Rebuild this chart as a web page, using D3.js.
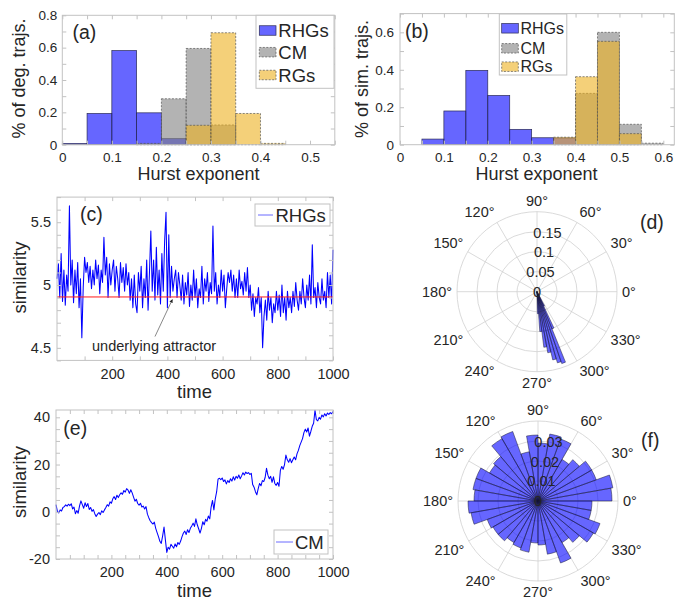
<!DOCTYPE html>
<html>
<head>
<meta charset="utf-8">
<script src="https://cdn.jsdelivr.net/npm/d3@7"></script>
<style>
  body { margin: 0; background: white; }
  svg { font-family: "Liberation Sans", Arial, Helvetica, sans-serif; }
</style>
</head>
<body>
<svg id="chart" width="679" height="601"></svg>
<script>
// ---------- data ----------
var histSeries = ["RHGs", "CM", "RGs"];
var binWidth = 0.05;

// (a) degree trajectories
var aBins = [0, 0.05, 0.1, 0.15, 0.2, 0.25, 0.3, 0.35, 0.4, 0.45, 0.5];
var aRHGs = [0.008, 0.193, 0.582, 0.197, 0.037, 0, 0, 0, 0, 0, 0];
var aCM   = [0, 0, 0, 0.008, 0.284, 0.595, 0.122, 0, 0, 0, 0];
var aRGs  = [0, 0, 0, 0, 0, 0.12, 0.692, 0.193, 0.008, 0, 0];
var aXLabels = [0, 0.1, 0.2, 0.3, 0.4, 0.5];
var aYLabels = [0, 0.2, 0.4, 0.6, 0.8];

// (b) similarity trajectories
var bBins = [0, 0.05, 0.1, 0.15, 0.2, 0.25, 0.3, 0.35, 0.4, 0.45, 0.5, 0.55];
var bRHGs = [0, 0.03, 0.18, 0.397, 0.263, 0.082, 0.037, 0.036, 0, 0, 0, 0];
var bCM   = [0, 0, 0, 0, 0, 0, 0, 0, 0.274, 0.6, 0.109, 0.008];
var bRGs  = [0, 0, 0, 0, 0, 0, 0, 0.04, 0.363, 0.552, 0.059, 0];
var bXLabels = [0, 0.1, 0.2, 0.3, 0.4, 0.5, 0.6];
var bYLabels = [0, 0.2, 0.4, 0.6];

// (c) RHGs similarity, one sample every 5 time steps (t = 0..1000)
var tStep = 5;
var cValues = [
  5.05, 5.17, 4.9, 5.25, 4.87, 5.12, 4.84, 5.08, 4.95, 5.63,
  5.0, 5.2, 4.86, 5.12, 4.93, 5.18, 4.82, 5.05, 4.58, 4.98,
  5.22, 5.1, 5.18, 5.02, 5.15, 4.97, 5.12, 5.0, 5.2, 5.05,
  5.16, 4.93, 5.12, 5.02, 5.38, 5.08, 5.22, 4.9, 5.17, 5.0,
  5.12, 5.2, 4.95, 5.15, 5.05, 4.9, 5.18, 5.02, 5.14, 4.95,
  5.17, 5.0, 5.1, 4.88, 5.05, 4.82, 5.08, 4.85, 4.78, 5.1,
  4.95, 5.15, 4.82, 5.05, 4.9, 5.2, 4.8, 5.1, 5.43, 4.95,
  5.2, 4.88, 5.3, 4.92, 5.12, 4.85, 5.25, 4.95, 5.35, 5.58,
  4.82, 5.4, 4.9, 5.15, 4.95, 5.05, 5.12, 4.9, 5.1, 5.0,
  4.88, 5.08, 4.85, 5.02, 4.92, 5.1, 4.83, 5.0, 4.88, 5.12,
  4.9, 5.05, 4.82, 4.97, 4.9, 5.15, 4.85, 5.05, 4.95, 5.1,
  4.87, 5.02, 4.93, 5.47, 4.95, 5.1, 4.85, 5.0, 4.9, 5.12,
  4.95, 5.08, 4.82, 4.97, 5.1, 5.02, 5.12, 4.95, 5.08, 4.9,
  5.05, 4.9, 5.12, 4.97, 5.03, 4.92, 5.1, 4.95, 5.14, 4.9,
  5.0, 4.8, 4.93, 4.75, 4.9, 4.85, 4.98, 4.78, 4.9, 4.5,
  4.75, 4.88, 4.72, 4.95, 4.8, 4.9, 4.7, 4.85, 4.78, 4.95,
  4.8, 4.92, 4.75, 5.0, 4.78, 4.9, 4.72, 4.95, 4.82, 4.9,
  4.78, 4.95, 4.83, 5.02, 4.88, 4.8, 4.95, 4.85, 5.05, 4.9,
  4.82, 5.0, 4.88, 5.08, 4.85, 5.32, 4.9, 4.98, 4.82, 5.02,
  4.9, 4.85, 5.05, 4.88, 4.95, 4.82, 5.1, 4.9, 5.08, 4.85,
  5.28
];
var attractorValue = 4.905;
var cXLabels = [200, 400, 600, 800, 1000];
var cYLabels = [4.5, 5, 5.5];

// (e) CM similarity, one sample every 5 time steps
var eValues = [
  3.0, 0.2, -0.5, 0.8, 0.3, 1.8, 2.2, 2.9, 2.4, 3.2,
  2.6, 3.4, 1.2, 2.0, -0.8, 0.5, -0.6, 2.5, 4.6, 3.0,
  1.5, 3.8, 2.2, 3.5, 1.0, 1.8, 0.2, 0.9, -0.8, -2.0,
  -1.0, -0.3, -1.2, 0.4, -0.3, 0.8, 1.8, 3.0, 2.4, 4.2,
  3.6, 5.5, 6.4, 5.2, 7.0, 6.0, 7.2, 8.0, 7.4, 9.0,
  8.3, 9.8, 9.2, 7.8, 9.3, 8.0, 6.2, 4.5, 5.3, 3.5,
  2.8, 3.6, 2.0, 2.4, 1.2, 2.2, -1.0, -2.5, -3.8, -4.6,
  -5.2, -4.4, -7.0, -8.8, -10.5, -12.5, -13.4, -10.2, -6.5, -12.0,
  -17.2, -15.0, -15.8, -13.8, -14.6, -15.4, -13.6, -14.8, -13.0, -13.8,
  -12.4, -10.5, -9.0, -8.2, -9.6, -7.6, -8.8, -7.0, -6.0, -4.8,
  -6.2, -3.0, -5.5, -7.2, -9.0, -7.0, -4.2, -5.5, -3.2, -4.0,
  -1.8, -3.0, 2.0, 4.8, 0.8, 5.5, 8.5, 13.8, 14.2, 13.6,
  14.3, 12.8, 13.5, 11.8, 13.2, 12.4, 14.0, 13.0, 14.8, 13.4,
  15.0, 14.2, 15.6, 14.0, 15.2, 16.5, 15.6, 16.8, 16.2, 16.6,
  15.8, 16.3, 11.5, 10.4, 8.5, 7.2, 9.8, 12.0, 11.0, 13.2,
  12.8, 14.5, 18.4, 15.5, 14.0, 15.0, 12.5, 14.8, 12.0, 11.2,
  12.4, 10.8, 17.5, 19.2, 18.0, 20.0, 24.0, 22.0, 21.0, 22.5,
  20.8, 22.0, 23.2, 22.0, 24.5, 26.0, 28.0, 29.5, 31.0, 33.5,
  35.0, 33.8, 35.5, 32.0, 34.0, 36.2, 37.5, 43.0, 39.0, 38.5,
  40.0, 39.2, 41.0, 40.2, 41.5, 40.6, 41.8, 41.2, 42.0, 41.5,
  42.5
];
var eXLabels = [200, 400, 600, 800, 1000];
var eYLabels = [-20, 0, 20, 40];

// (d) polar histogram of RHGs angles (bin start in degrees, 3 degree bins)
var dBinWidth = 3;
var dAngles = [271, 274, 277, 280, 283, 286, 289, 292, 295];
var dValues = [0.055, 0.1, 0.14, 0.155, 0.175, 0.185, 0.19, 0.1, 0.04];
var dRings = [0.05, 0.1, 0.15, 0.2];
var dRingLabels = ["0.05", "0.1", "0.15"];

// (f) polar histogram of CM angles (10 degree bins)
var fBinWidth = 10;
var fAngles = d3.range(0, 360, 10);
var fValues = [
  0.037, 0.038, 0.031, 0.031, 0.027, 0.024, 0.033, 0.034, 0.029, 0.033,
  0.025, 0.037, 0.036, 0.029, 0.028, 0.033, 0.033, 0.032, 0.035, 0.034,
  0.027, 0.026, 0.026, 0.024, 0.025, 0.026, 0.021, 0.022, 0.027, 0.033,
  0.024, 0.027, 0.032, 0.033, 0.027, 0.027
];
var fRings = [0.01, 0.02, 0.03, 0.04];
var fRingLabels = ["0.01", "0.02", "0.03"];

var thetaLabels = d3.range(0, 360, 30);

// ---------- style ----------
var svg = d3.select("#chart");
var textColor = "#262626";
var boxColor = "#c2c2c2";
var gridColor = "#d0d0d0";
var seriesFill = { RHGs: "rgb(0,0,255)", CM: "rgb(128,128,128)", RGs: "rgb(237,177,32)" };
var faceAlpha = 0.6;

function fmt(v) { return String(+v.toFixed(3)); }
function isLabel(v, labels) {
  return labels.some(function(l) { return Math.abs(l - v) < 1e-9; });
}

// axes box with inward ticks on all four sides
function drawFrame(x, y, o) {
  var g = svg.append("g");
  var x0 = x.range()[0], x1 = x.range()[1], y0 = y.range()[0], y1 = y.range()[1];

  g.append("g").attr("transform", "translate(0," + y0 + ")")
    .call(d3.axisBottom(x).tickValues(o.xTicks).tickSize(-4).tickPadding(o.xPad)
      .tickFormat(function(v) { return isLabel(v, o.xLabels) ? fmt(v) : ""; }))
    .call(styleAxis, o.fontSize);
  g.append("g").attr("transform", "translate(0," + y1 + ")")
    .call(d3.axisTop(x).tickValues(o.xTicks).tickSize(-4).tickFormat(""))
    .call(styleAxis, o.fontSize);
  g.append("g").attr("transform", "translate(" + x0 + ",0)")
    .call(d3.axisLeft(y).tickValues(o.yTicks).tickSize(-4).tickPadding(o.yPad)
      .tickFormat(function(v) { return isLabel(v, o.yLabels) ? fmt(v) : ""; }))
    .call(styleAxis, o.fontSize);
  g.append("g").attr("transform", "translate(" + x1 + ",0)")
    .call(d3.axisRight(y).tickValues(o.yTicks).tickSize(-4).tickFormat(""))
    .call(styleAxis, o.fontSize);

  g.append("rect")
    .attr("x", x0).attr("y", y1)
    .attr("width", x1 - x0).attr("height", y0 - y1)
    .style("fill", "none")
    .style("stroke", boxColor)
    .style("stroke-width", 1);
  return g;
}

function styleAxis(sel, fontSize) {
  sel.select(".domain").remove();
  sel.selectAll(".tick line").attr("stroke", boxColor).attr("stroke-width", 1);
  sel.selectAll(".tick text")
    .attr("fill", textColor)
    .style("font-size", fontSize + "px")
    .style("font-family", "'Liberation Sans', Arial, sans-serif");
}

function addText(str, x, y, size, opts) {
  opts = opts || {};
  var t = svg.append("text")
    .attr("x", x).attr("y", y)
    .attr("fill", textColor)
    .style("font-size", size + "px")
    .attr("text-anchor", opts.anchor || "start")
    .text(str);
  if (opts.rotate) {
    t.attr("x", 0).attr("y", 0)
      .attr("transform", "translate(" + x + "," + y + ") rotate(-90)");
  }
  return t;
}

// ---------- histogram panels ----------
function drawHist(x, y, bins, seriesVals) {
  var g = svg.append("g");
  seriesVals.forEach(function(vals, s) {
    var name = histSeries[s];
    var data = bins.map(function(b, i) { return { b: b, v: vals[i] }; })
      .filter(function(d) { return d.v > 0; });
    g.append("g").selectAll("rect")
      .data(data)
      .enter()
      .append("rect")
      .attr("x", function(d) { return x(d.b); })
      .attr("width", function(d) { return x(d.b + binWidth) - x(d.b); })
      .attr("y", function(d) { return y(d.v); })
      .attr("height", function(d) { return y(0) - y(d.v); })
      .style("fill", seriesFill[name])
      .style("fill-opacity", faceAlpha)
      .style("stroke", name == "RHGs" ? "#2a2a55" : "#555")
      .style("stroke-width", 0.7)
      .style("stroke-dasharray", name == "RHGs" ? null : "2,1.5");
  });
}

function drawHistLegend(bx, by, bw, bh, rows, patchX, patchW, patchH, textX, size) {
  svg.append("rect")
    .attr("x", bx).attr("y", by).attr("width", bw).attr("height", bh)
    .style("fill", "white").style("stroke", boxColor).style("stroke-width", 1);
  histSeries.forEach(function(name, i) {
    svg.append("rect")
      .attr("x", patchX).attr("y", rows[i] - patchH / 2)
      .attr("width", patchW).attr("height", patchH)
      .style("fill", seriesFill[name])
      .style("fill-opacity", faceAlpha)
      .style("stroke", name == "RHGs" ? "#2a2a55" : "#555")
      .style("stroke-width", 0.7)
      .style("stroke-dasharray", name == "RHGs" ? null : "2,1.5");
    addText(name, textX, rows[i] + size * 0.36, size);
  });
}

// (a)
var xA = d3.scaleLinear().domain([0, 0.55]).range([62.3, 334.8]);
var yA = d3.scaleLinear().domain([0, 0.8]).range([144.7, 15.3]);
drawHist(xA, yA, aBins, [aRHGs, aCM, aRGs]);
drawFrame(xA, yA, {
  xTicks: d3.range(0, 0.551, 0.05), xLabels: aXLabels,
  yTicks: d3.range(0, 0.801, 0.1), yLabels: aYLabels,
  fontSize: 13.5, xPad: 8, yPad: 5
});
drawHistLegend(256, 15.3, 78, 73, [30.5, 52.2, 75], 259.3, 16.7, 9.5, 278.3, 18.5);
addText("(a)", 72.5, 39, 19.5);
addText("Hurst exponent", 198.5, 180, 18, { anchor: "middle" });
addText("% of deg. trajs.", 25, 78.5, 18, { anchor: "middle", rotate: true });

// (b)
var xB = d3.scaleLinear().domain([0, 0.625]).range([400, 674.3]);
var yB = d3.scaleLinear().domain([0, 0.7]).range([144.7, 13.6]);
drawHist(xB, yB, bBins, [bRHGs, bCM, bRGs]);
drawFrame(xB, yB, {
  xTicks: d3.range(0, 0.626, 0.05), xLabels: bXLabels,
  yTicks: d3.range(0, 0.701, 0.1), yLabels: bYLabels,
  fontSize: 13.5, xPad: 8, yPad: 6
});
drawHistLegend(499.3, 14, 67.5, 61, [28.3, 48.3, 66.7], 501.7, 16.6, 9.5, 520.5, 16);
addText("(b)", 405, 37.5, 19.5);
addText("Hurst exponent", 536.5, 180, 18, { anchor: "middle" });
addText("% of sim. trajs.", 368, 79, 18, { anchor: "middle", rotate: true });

// ---------- time series panels ----------
function drawSeries(x, y, vals, color) {
  var line = d3.line()
    .x(function(d, i) { return x(i * tStep); })
    .y(function(d) { return y(d); });
  svg.append("path")
    .datum(vals)
    .attr("d", line)
    .style("fill", "none")
    .style("stroke", color)
    .style("stroke-width", 1.05)
    .style("stroke-linejoin", "round");
}

function drawLineLegend(bx, by, bw, bh, x1, x2, textX, label, size) {
  svg.append("rect")
    .attr("x", bx).attr("y", by).attr("width", bw).attr("height", bh)
    .style("fill", "white").style("stroke", boxColor).style("stroke-width", 1);
  svg.append("line")
    .attr("x1", x1).attr("x2", x2)
    .attr("y1", by + bh / 2).attr("y2", by + bh / 2)
    .style("stroke", "#6b6bff").style("stroke-width", 1);
  addText(label, textX, by + bh / 2 + size * 0.36, size);
}

// (c)
var xC = d3.scaleLinear().domain([0, 1000]).range([57, 333]);
var yC = d3.scaleLinear().domain([4.4, 5.7]).range([360.4, 197.1]);
drawSeries(xC, yC, cValues, "#0000ff");
svg.append("line")
  .attr("x1", xC(0)).attr("x2", xC(1000))
  .attr("y1", yC(attractorValue)).attr("y2", yC(attractorValue))
  .style("stroke", "#ff1a1a").style("stroke-width", 1);
drawFrame(xC, yC, {
  xTicks: d3.range(100, 1001, 100), xLabels: cXLabels,
  yTicks: d3.range(4.4, 5.71, 0.1), yLabels: cYLabels,
  fontSize: 14.5, xPad: 8, yPad: 6
});
drawLineLegend(255, 204, 75, 22, 258, 273, 275.5, "RHGs", 18.5);
addText("(c)", 80, 221, 19.5);
addText("time", 194.5, 398, 18.5, { anchor: "middle" });
addText("similarity", 26, 277.5, 18.5, { anchor: "middle", rotate: true });

// annotation arrow pointing at the attractor
svg.append("defs").append("marker")
  .attr("id", "arrowhead")
  .attr("viewBox", "0 0 10 10")
  .attr("refX", 9).attr("refY", 5)
  .attr("markerWidth", 5).attr("markerHeight", 5)
  .attr("orient", "auto")
  .append("path")
  .attr("d", "M0,0L10,5L0,10z")
  .style("fill", "#222");
svg.append("line")
  .attr("x1", xC(355)).attr("y1", yC(4.59))
  .attr("x2", xC(418)).attr("y2", yC(4.885))
  .style("stroke", "#555").style("stroke-width", 0.7)
  .attr("marker-end", "url(#arrowhead)");
addText("underlying attractor", xC(127), yC(4.475), 14.5);

// (e)
var xE = d3.scaleLinear().domain([0, 1000]).range([56, 333]);
var yE = d3.scaleLinear().domain([-20, 43.1]).range([559, 410]);
drawSeries(xE, yE, eValues, "#0000ff");
drawFrame(xE, yE, {
  xTicks: d3.range(50, 1001, 50), xLabels: eXLabels,
  yTicks: d3.range(-20, 43.1, 5), yLabels: eYLabels,
  fontSize: 14.5, xPad: 8, yPad: 6
});
drawLineLegend(274, 530, 54, 24, 276, 293, 295, "CM", 18.5);
addText("(e)", 63.3, 434.5, 19.5);
addText("time", 194.5, 597, 18.5, { anchor: "middle" });
addText("similarity", 26, 482, 18.5, { anchor: "middle", rotate: true });

// ---------- polar histograms ----------
function drawPolar(cx, cy, rMaxVal, rings, ringLabels, angles, width, values) {
  var g = svg.append("g").attr("transform", "translate(" + cx + "," + cy + ")");
  var r = d3.scaleLinear().domain([0, rMaxVal]).range([0, 80]);
  var rad = Math.PI / 180;

  // grid
  g.append("g").selectAll("circle")
    .data(rings)
    .enter()
    .append("circle")
    .attr("r", function(d) { return r(d); })
    .style("fill", "none")
    .style("stroke", gridColor)
    .style("stroke-width", 0.8);
  g.append("g").selectAll("line")
    .data(thetaLabels)
    .enter()
    .append("line")
    .attr("x1", 0).attr("y1", 0)
    .attr("x2", function(d) { return r(rMaxVal) * Math.cos(d * rad); })
    .attr("y2", function(d) { return -r(rMaxVal) * Math.sin(d * rad); })
    .style("stroke", gridColor)
    .style("stroke-width", 0.8);

  // bars
  var arc = d3.arc()
    .innerRadius(0)
    .outerRadius(function(d) { return r(d.v); })
    .startAngle(function(d) { return (90 - d.a - width) * rad; })
    .endAngle(function(d) { return (90 - d.a) * rad; });
  g.append("g").selectAll("path")
    .data(angles.map(function(a, i) { return { a: a, v: values[i] }; }))
    .enter()
    .append("path")
    .attr("d", arc)
    .style("fill", "rgb(0,0,255)")
    .style("fill-opacity", faceAlpha)
    .style("stroke", "#1a1a33")
    .style("stroke-width", 0.5);

  // theta labels, near edge touching a circle just outside the grid
  var labR = 85;
  g.append("g").selectAll("text")
    .data(thetaLabels)
    .enter()
    .append("text")
    .attr("x", function(d) { return labR * Math.cos(d * rad); })
    .attr("y", function(d) {
      var s = Math.sin(d * rad), y0 = -labR * s;
      if (s > 0.3) return y0 - 1;
      if (s < -0.3) return y0 + 11;
      return y0 + 5;
    })
    .attr("text-anchor", function(d) {
      var c = Math.cos(d * rad);
      return c > 0.3 ? "start" : (c < -0.3 ? "end" : "middle");
    })
    .attr("fill", textColor)
    .style("font-size", "14.5px")
    .text(function(d) { return d + "\u00b0"; });

  // radial labels along 80 degrees
  var rl = [{ v: 0, s: "0" }].concat(ringLabels.map(function(s, i) { return { v: rings[i], s: s }; }));
  g.append("g").selectAll("text")
    .data(rl)
    .enter()
    .append("text")
    .attr("x", function(d) { return r(d.v) * Math.cos(80 * rad); })
    .attr("y", function(d) { return -r(d.v) * Math.sin(80 * rad) + 5; })
    .attr("text-anchor", "middle")
    .attr("fill", textColor)
    .style("font-size", "14.5px")
    .text(function(d) { return d.s; });
}

addText("(d)", 640, 229, 19.5);
drawPolar(537, 291.7, 0.2, dRings, dRingLabels, dAngles, dBinWidth, dValues);
addText("(f)", 641, 447, 19.5);
drawPolar(538, 501, 0.04, fRings, fRingLabels, fAngles, fBinWidth, fValues);
</script>
</body>
</html>
